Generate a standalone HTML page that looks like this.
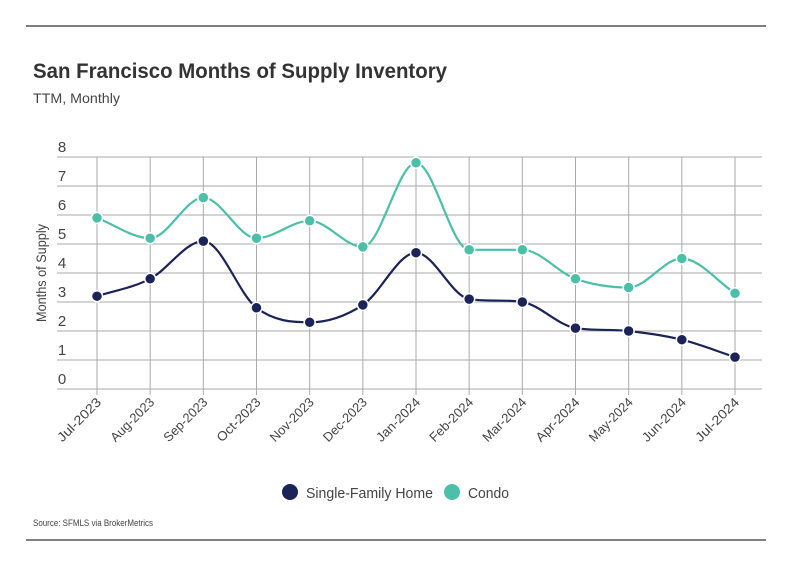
<!DOCTYPE html>
<html><head><meta charset="utf-8"><style>
body{margin:0;background:#fff;font-family:"Liberation Sans Narrow","Liberation Sans",sans-serif}
svg text{font-family:"Liberation Sans Narrow","Liberation Sans",sans-serif}
</style></head><body>
<svg id="c" width="799" height="575" xmlns="http://www.w3.org/2000/svg">
<line x1="26" y1="26" x2="766" y2="26" stroke="#333" stroke-width="1.2"/>
<text x="33" y="78" font-size="21" font-weight="bold" fill="#333" textLength="414" lengthAdjust="spacingAndGlyphs">San Francisco Months of Supply Inventory</text>
<text x="33" y="103" font-size="14" fill="#444" textLength="87" lengthAdjust="spacingAndGlyphs">TTM, Monthly</text>
<text transform="translate(46,273) rotate(-90)" text-anchor="middle" font-size="14" fill="#444" textLength="98" lengthAdjust="spacingAndGlyphs">Months of Supply</text>
<g id="grid"></g><g id="series"></g>
<g>
<circle cx="290" cy="492" r="8" fill="#1b2358"/>
<text x="306" y="498" font-size="15" fill="#444" textLength="127" lengthAdjust="spacingAndGlyphs">Single-Family Home</text>
<circle cx="452" cy="492" r="8" fill="#4bbfa8"/>
<text x="468" y="498" font-size="15" fill="#444" textLength="41" lengthAdjust="spacingAndGlyphs">Condo</text>
</g>
<text x="33" y="526" font-size="9" fill="#444" textLength="120" lengthAdjust="spacingAndGlyphs">Source:  SFMLS via BrokerMetrics</text>
<line x1="26" y1="540" x2="766" y2="540" stroke="#333" stroke-width="1.2"/>
</svg>
<script>
const categories=["Jul-2023","Aug-2023","Sep-2023","Oct-2023","Nov-2023","Dec-2023","Jan-2024","Feb-2024","Mar-2024","Apr-2024","May-2024","Jun-2024","Jul-2024"];
const sfhValues=[3.2,3.8,5.1,2.8,2.3,2.9,4.7,3.1,3.0,2.1,2.0,1.7,1.1];
const condoValues=[5.9,5.2,6.6,5.2,5.8,4.9,7.8,4.8,4.8,3.8,3.5,4.5,3.3];
const yTicks=[0,1,2,3,4,5,6,7,8];

const NS="http://www.w3.org/2000/svg";
const x=i=>97+i*(735-97)/(categories.length-1);
const y=v=>389-v*29;
function mk(tag,attrs,parent){const e=document.createElementNS(NS,tag);for(const k in attrs)e.setAttribute(k,attrs[k]);parent.appendChild(e);return e;}
const grid=document.getElementById('grid'),series=document.getElementById('series');
yTicks.forEach(t=>{
  const l=mk('line',{x1:57,x2:762,y1:y(t),y2:y(t),stroke:'#aaa','stroke-width':1},grid);
  
  
  const tx=mk('text',{x:62,y:y(t)-5,'font-size':15,fill:'#444','text-anchor':'middle'},grid);
  tx.textContent=t;
  
  
});
categories.forEach((c,i)=>{
  const l=mk('line',{x1:x(i),x2:x(i),y1:y(8),y2:395,stroke:'#aaa','stroke-width':1},grid);
  
  
  const tx=mk('text',{transform:`translate(${x(i)+5},${403}) rotate(-45)`,'font-size':13,fill:'#444','text-anchor':'end',textLength:56,lengthAdjust:'spacingAndGlyphs'},grid);
  tx.textContent=c;
  
  
});
function path(vals){
  const p=vals.map((v,i)=>[x(i),y(v)]);
  const n=p.length,h=p[1][0]-p[0][0];
  const s=[];for(let i=0;i<n-1;i++)s.push((p[i+1][1]-p[i][1])/h);
  const m=[];
  for(let i=0;i<n;i++){
    if(i===0)m.push(s[0]);else if(i===n-1)m.push(s[n-2]);
    else{const a=s[i-1],b=s[i];m.push(a*b<=0?0:(a+b)/2*Math.min(1,3*Math.min(Math.abs(a),Math.abs(b))/Math.abs((a+b)/2)));}
  }
  let d=`M${p[0][0]},${p[0][1]}`;
  for(let i=0;i<n-1;i++){
    d+=` C${p[i][0]+h/3},${p[i][1]+m[i]*h/3} ${p[i+1][0]-h/3},${p[i+1][1]-m[i+1]*h/3} ${p[i+1][0]},${p[i+1][1]}`;
  }
  return d;
}
function draw(vals,color,name){
  const pa=mk('path',{d:path(vals),fill:'none',stroke:color,'stroke-width':2.2},series);
  
  
  vals.forEach((v,i)=>{
    const c=mk('circle',{cx:x(i),cy:y(v),r:5.5,fill:color,stroke:'#fff','stroke-width':1.5},series);
    
    
  });
}
draw(condoValues,'#4bbfa8','condo');
draw(sfhValues,'#1b2358','single-family');
</script>
</body></html>
